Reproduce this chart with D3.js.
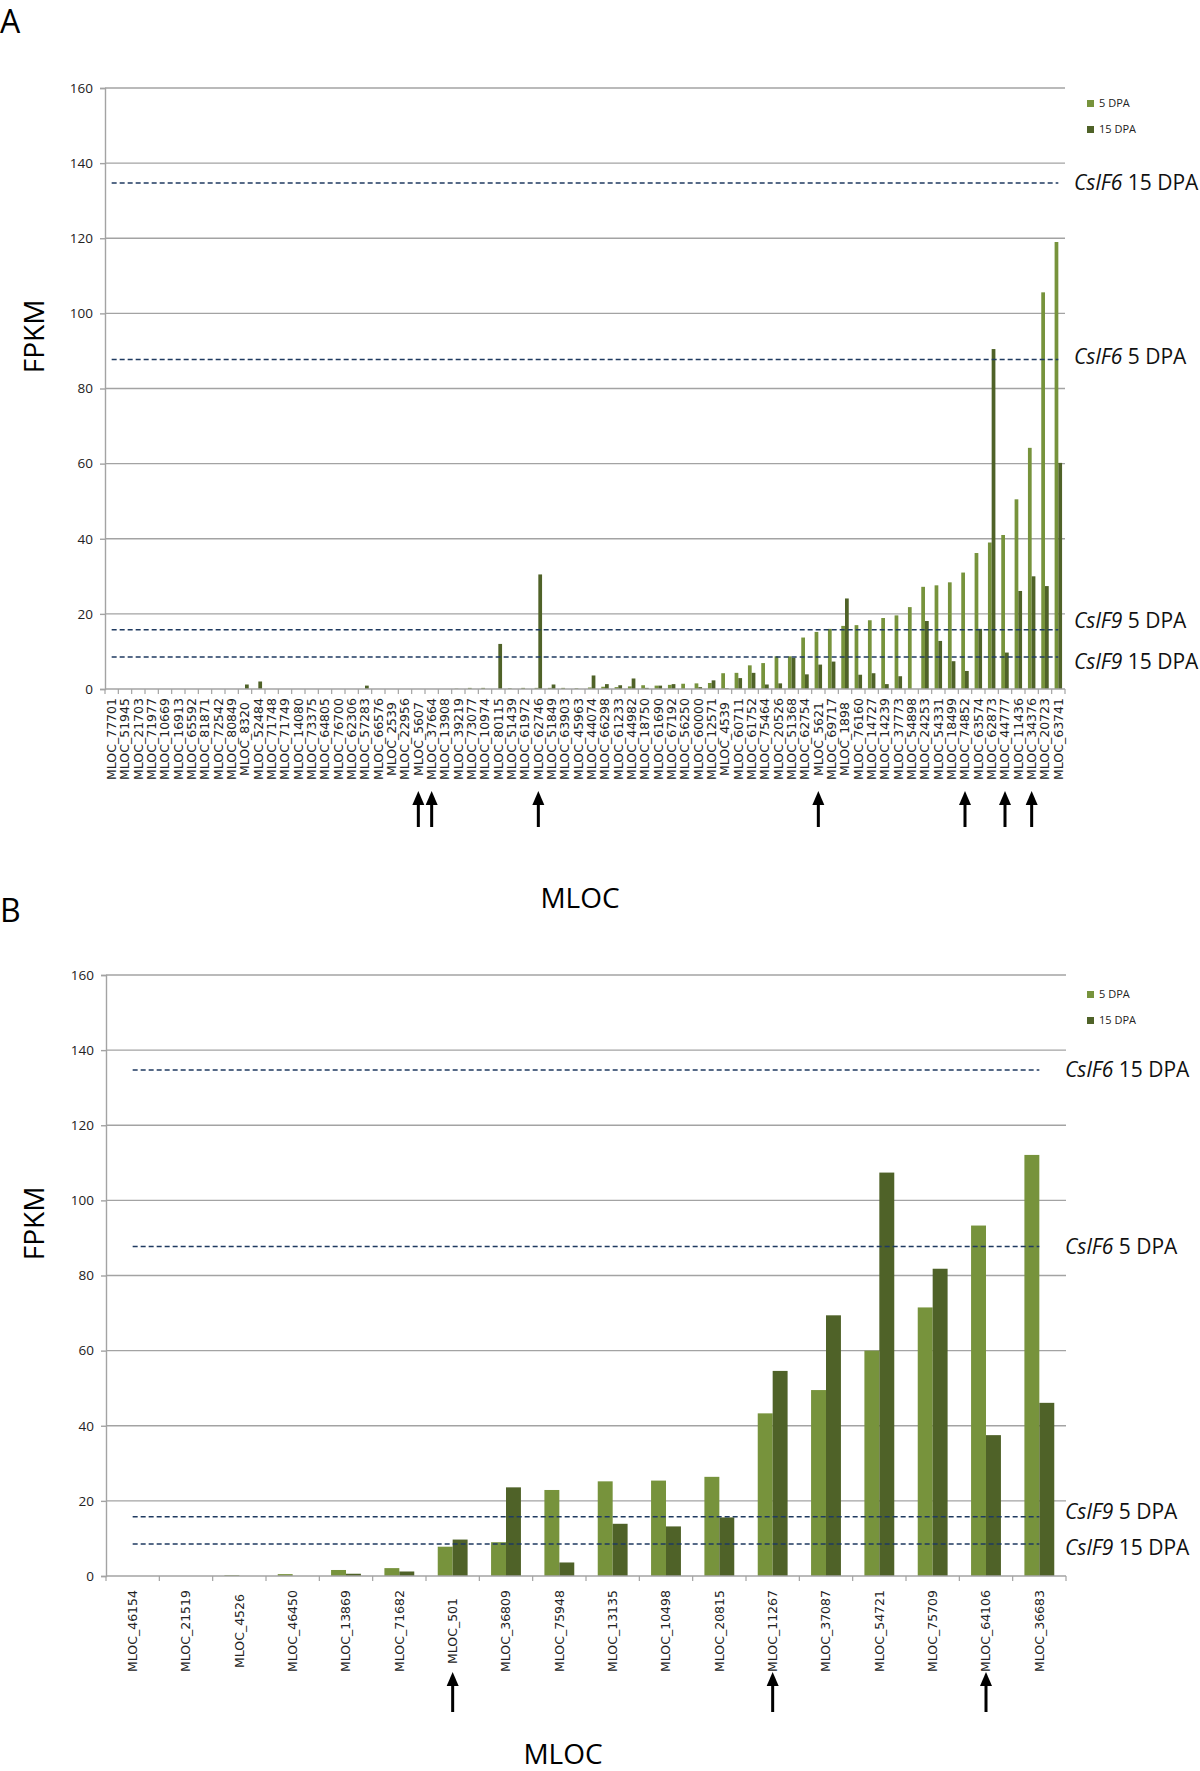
<!DOCTYPE html>
<html>
<head>
<meta charset="utf-8">
<script src="https://cdn.jsdelivr.net/npm/d3@7"></script>
<style>
  html, body { margin: 0; padding: 0; background: #fff; }
  svg { display: block; }
</style>
</head>
<body>
<svg id="chart" width="1200" height="1771"></svg>
<script>
// ---------------- DATA ----------------
const categoriesA = ["77701","51945","21703","71977","10669","16913","65592","81871","72542","80849",
  "8320","52484","71748","71749","14080","73375","64805","76700","62306","57283",
  "66576","2539","22956","5607","37664","13908","39219","73077","10974","80115",
  "51439","61972","62746","51849","63903","45963","44074","66298","61233","44982",
  "18750","61690","67192","56250","60000","12571","4539","60711","61752","75464",
  "20526","51368","62754","5621","69717","1898","76160","14727","14239","37773",
  "54898","24253","54331","18499","74852","63574","62873","44777","11436","34376",
  "20723","63741"];
const dpa5A = [0,0,0,0,0,0,0,0,0,0,
  0,0,0,0,0,0,0,0,0,0,
  0,0,0,0,0,0,0.1,0.3,0.3,0,
  0.2,0.3,0.3,0.3,0.3,0.2,0.4,0.6,0.5,0.7,
  1.0,0.9,1.1,1.4,1.5,1.6,4.2,4.3,6.3,6.9,
  8.7,8.7,13.7,15.2,16.0,16.8,17.0,18.3,18.9,19.6,
  21.8,27.2,27.6,28.4,31.0,36.2,39.0,41.0,50.5,64.2,
  105.6,119.0];
const dpa15A = [0,0,0,0,0,0,0,0,0,0,
  1.2,2.0,0,0,0,0,0,0,0,0.9,
  0,0,0,0,0,0,0,0,0,12.0,
  0,0,30.5,1.2,0,0,3.6,1.3,1.0,2.8,
  0.3,0.9,1.3,0,0.5,2.3,0.2,2.9,4.3,1.2,
  1.5,8.3,3.9,6.5,7.3,24.1,3.8,4.2,1.3,3.4,
  0,18.1,12.8,7.4,4.8,16.0,90.5,9.7,26.1,30.0,
  27.4,60.2];
const arrowsA = ["5607","37664","62746","5621","74852","44777","34376"];

const categoriesB = ["46154","21519","4526","46450","13869","71682","501","36809","75948",
  "13135","10498","20815","11267","37087","54721","75709","64106","36683"];
const dpa5B  = [0,0,0.2,0.5,1.6,2.1,7.8,9.0,22.9,25.2,25.4,26.4,43.3,49.5,60.0,71.5,93.3,112.1];
const dpa15B = [0,0,0,0,0.6,1.2,9.7,23.6,3.6,13.9,13.2,15.6,54.6,69.4,107.4,81.8,37.5,46.1];
const arrowsB = ["501","11267","64106"];

const seriesNames = ["5 DPA", "15 DPA"];
const yTickValues = [0,20,40,60,80,100,120,140,160];
const refGenes = ["CslF6", "CslF6", "CslF9", "CslF9"];
const refStages = ["15 DPA", "5 DPA", "5 DPA", "15 DPA"];
const refValues = [134.7, 87.7, 15.8, 8.5];

// ---------------- STYLE ----------------
const colors = ["#77933c", "#4f6228"];
const gridColor = "#a3a3a3";
const refColor = "#1f3a60";
const svg = d3.select("#chart");

function drawPanel(p) {
  const g = svg.append("g");
  const x = d3.scaleBand().domain(p.categories).range([p.left, p.right])
    .paddingInner(0.44).paddingOuter(0.22);
  const xOuter = d3.scaleBand().domain(p.categories).range([p.left, p.right]);
  const x1 = d3.scaleBand().domain(seriesNames).range([0, x.bandwidth()]);
  const y = d3.scaleLinear().domain([0, 160]).range([p.bottom, p.top]);

  // gridlines
  g.append("g").selectAll("line").data(yTickValues.filter(v => v > 0)).join("line")
    .attr("x1", p.left).attr("x2", p.right)
    .attr("y1", d => y(d)).attr("y2", d => y(d))
    .attr("stroke", gridColor).attr("stroke-width", 1.4);

  // y axis
  const yAxis = d3.axisLeft(y).tickValues(yTickValues).tickSize(5).tickPadding(7);
  const ya = g.append("g").attr("transform", `translate(${p.left},0)`).call(yAxis);
  ya.select(".domain").attr("stroke", gridColor).attr("stroke-width", 1.4);
  ya.selectAll(".tick line").attr("stroke", gridColor).attr("stroke-width", 1.4);
  ya.selectAll(".tick text").attr("font-family", "'Open Sans', sans-serif")
    .attr("font-size", 13.5).attr("fill", "#222");

  // bars
  const data = p.categories.map((c, i) => ({c, vals: [p.s5[i], p.s15[i]]}));
  const grp = g.append("g").selectAll("g").data(data).join("g")
    .attr("transform", d => `translate(${x(d.c)},0)`);
  grp.selectAll("rect").data(d => d.vals.map((v, k) => ({v, k}))).join("rect")
    .attr("x", d => x1(seriesNames[d.k]))
    .attr("width", x1.bandwidth())
    .attr("y", d => y(d.v))
    .attr("height", d => y(0) - y(d.v))
    .attr("fill", d => colors[d.k]);

  // reference dashed lines (from first to last category centre)
  const cx0 = x(p.categories[0]) + x.bandwidth() / 2;
  const cx1 = x(p.categories[p.categories.length - 1]) + x.bandwidth() / 2;
  g.append("g").selectAll("line").data(refValues).join("line")
    .attr("x1", cx0).attr("x2", cx1)
    .attr("y1", d => y(d)).attr("y2", d => y(d))
    .attr("stroke", refColor).attr("stroke-width", 1.5)
    .attr("stroke-dasharray", "5,3");

  // reference labels
  const lab = g.append("g").selectAll("text").data(refValues).join("text")
    .attr("x", p.refLabelX)
    .attr("y", (d, i) => y(d) + p.refDy[i])
    .attr("font-family", "'Open Sans', sans-serif")
    .attr("font-size", 21).attr("fill", "#111");
  lab.append("tspan").attr("font-style", "italic").text((d, i) => refGenes[i]);
  lab.append("tspan").text((d, i) => " " + refStages[i]);

  // x axis
  const xa = g.append("g").attr("transform", `translate(0,${p.bottom})`);
  xa.append("line").attr("x1", p.left).attr("x2", p.right).attr("y1", 0).attr("y2", 0)
    .attr("stroke", gridColor).attr("stroke-width", 1.4);
  const bounds = p.categories.map(c => xOuter(c)).concat([p.right]);
  xa.selectAll("line.tk").data(bounds).join("line").attr("class", "tk")
    .attr("x1", d => d).attr("x2", d => d).attr("y1", 0).attr("y2", 5)
    .attr("stroke", gridColor).attr("stroke-width", 1.2);
  xa.selectAll("text.xl").data(p.categories).join("text").attr("class", "xl")
    .attr("transform", d => `translate(${x(d) + x.bandwidth() / 2},${p.labelCenter - p.bottom}) rotate(-90)`)
    .attr("text-anchor", "middle").attr("dy", "0.35em")
    .attr("font-family", "'DejaVu Sans', sans-serif").attr("font-size", p.labelSize)
    .attr("fill", "#222")
    .text(d => "MLOC_" + d);

  // arrows
  const ag = g.append("g").selectAll("g").data(p.arrows).join("g")
    .attr("transform", d => `translate(${x(d) + x.bandwidth() / 2},${p.bottom + p.arrowTop})`);
  ag.append("rect").attr("x", -1.5).attr("y", 10).attr("width", 3).attr("height", p.arrowLen - 10)
    .attr("fill", "#000");
  ag.append("path").attr("d", "M0,0 L6,14 L-6,14 Z").attr("fill", "#000");

  // legend
  const lg = g.append("g").selectAll("g").data(seriesNames).join("g")
    .attr("transform", (d, i) => `translate(${p.legendX},${p.legendY + i * 26})`);
  lg.append("rect").attr("x", 0).attr("y", -7).attr("width", 7).attr("height", 7)
    .attr("fill", (d, i) => colors[i]);
  lg.append("text").attr("x", 12).attr("y", 0)
    .attr("font-family", "'Open Sans', sans-serif").attr("font-size", 11)
    .attr("fill", "#222").text(d => d);

  // axis titles
  g.append("text").attr("transform", `translate(${p.fpkmX},${(p.top + p.bottom) / 2 + p.fpkmDy}) rotate(-90)`)
    .attr("text-anchor", "middle").attr("dy", "0.35em")
    .attr("font-family", "'Open Sans', sans-serif").attr("font-size", 28).text("FPKM");
  g.append("text").attr("x", p.mlocX).attr("y", p.mlocY)
    .attr("text-anchor", "middle")
    .attr("font-family", "'Open Sans', sans-serif").attr("font-size", 28).text("MLOC");

  // panel letter
  g.append("text").attr("x", 0).attr("y", p.letterY)
    .attr("font-family", "'Open Sans', sans-serif").attr("font-size", 32).text(p.letter);
}

drawPanel({
  letter: "A", letterY: 33,
  categories: categoriesA, s5: dpa5A, s15: dpa15A, arrows: arrowsA,
  left: 105, right: 1065, top: 88, bottom: 689,
  labelCenter: 739, labelSize: 12.5, arrowTop: 102, arrowLen: 36,
  refLabelX: 1074, refDy: [7, 4, -2, 12],
  legendX: 1087, legendY: 107,
  fpkmX: 34, fpkmDy: -52, mlocX: 580, mlocY: 908
});

drawPanel({
  letter: "B", letterY: 922,
  categories: categoriesB, s5: dpa5B, s15: dpa15B, arrows: arrowsB,
  left: 106, right: 1066, top: 975, bottom: 1576,
  labelCenter: 1631, labelSize: 12.5, arrowTop: 96, arrowLen: 40,
  refLabelX: 1065, refDy: [7, 7, 2, 11],
  legendX: 1087, legendY: 998,
  fpkmX: 34, fpkmDy: -52, mlocX: 563, mlocY: 1764
});
</script>
</body>
</html>
